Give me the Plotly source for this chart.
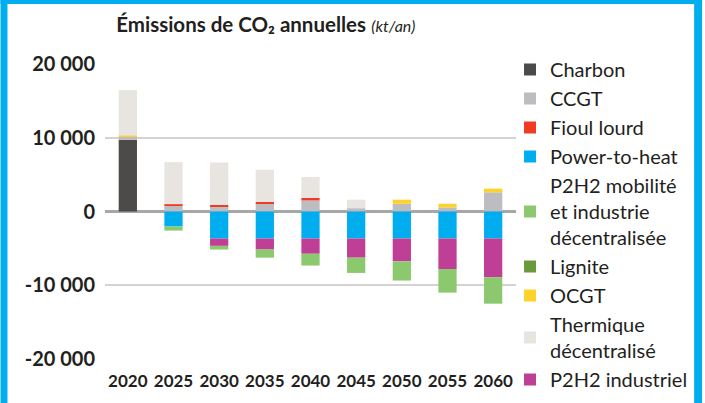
import plotly.graph_objects as go

# data (kt/an)
years = ["2020", "2025", "2030", "2035", "2040", "2045", "2050", "2055", "2060"]

charbon = [9730, 0, 0, 0, 0, 0, 0, 0, 0]
lignite = [0, 0, 0, 0, 0, 0, 0, 0, 0]
ccgt = [460, 760, 700, 1050, 1500, 450, 1050, 550, 2600]
fioul_lourd = [0, 230, 200, 250, 350, 0, 0, 0, 0]
ocgt = [100, 0, 0, 0, 0, 0, 550, 500, 500]
thermique_dec = [6170, 5700, 5750, 4360, 2820, 1150, 0, 0, 0]
power_to_heat = [0, -2040, -3660, -3660, -3660, -3660, -3660, -3660, -3660]
p2h2_industriel = [0, 0, -1000, -1500, -2070, -2600, -3100, -4140, -5240]
p2h2_mobilite = [0, -550, -500, -1100, -1600, -2070, -2600, -3200, -3600]

y_ticks = [-20000, -10000, 0, 10000, 20000]
y_tick_labels = ["-20 000", "-10 000", "0", "10 000", "20 000"]

# series in stacking order: (name, values, colour, legend rank)
series = [
    ("Charbon", charbon, "#4D4A4A", 1),
    ("Lignite", lignite, "#6A9A3C", 6),
    ("CCGT", ccgt, "#BDBCC0", 2),
    ("Fioul lourd", fioul_lourd, "#EF3B24", 3),
    ("OCGT", ocgt, "#FDD22B", 7),
    ("Thermique<br>décentralisé", thermique_dec, "#E8E5E0", 8),
    ("Power-to-heat", power_to_heat, "#00AEEF", 4),
    ("P2H2 industriel", p2h2_industriel, "#BE3F95", 9),
    ("P2H2 mobilité<br>et industrie<br>décentralisée", p2h2_mobilite, "#8CC96E", 5),
]

W, H = 705, 403
ML, MR, MT, MB = 105, 187, 64, 44
TXT = "#231F20"
FONT = "Lato"


def px2x(px):
    return (px - ML) / (W - ML - MR)


def py2y(py):
    return (H - MB - py) / (H - MT - MB)


fig = go.Figure()
for name, vals, color, rank in series:
    fig.add_trace(go.Bar(
        x=years, y=vals, name=name,
        marker=dict(color=color, line=dict(width=0)),
        legendgroup=name, legendrank=rank,
    ))

fig.update_layout(
    width=W, height=H,
    margin=dict(l=ML, r=MR, t=MT, b=MB),
    barmode="relative",
    bargap=0.6,
    plot_bgcolor="white",
    paper_bgcolor="white",
    font=dict(family=FONT, color=TXT),
    title=dict(
        text="<b>Émissions de CO₂ annuelles</b> <i><span style='font-size:16px'>(kt/an)</span></i>",
        font=dict(family=FONT, size=20.5, color=TXT),
        xref="container", x=0.377, xanchor="center",
        yref="container", y=1 - 25 / H, yanchor="middle",
    ),
    legend=dict(
        x=px2x(512), xanchor="left",
        y=py2y(50), yanchor="top",
        traceorder="grouped",
        tracegroupgap=0,
        maxheight=1,
        font=dict(family=FONT, size=20, color=TXT),
        bgcolor="rgba(0,0,0,0)",
    ),
    showlegend=True,
)

fig.update_yaxes(
    range=[-20000, 20000],
    tickvals=y_ticks, ticktext=y_tick_labels,
    tickfont=dict(family=FONT, size=20, color=TXT, weight="bold"),
    showgrid=True, gridcolor="#D3D3D3", gridwidth=1.5,
    zeroline=True, zerolinecolor="#A7A7A7", zerolinewidth=3,
    showline=False, ticks="", ticklabelstandoff=9,
)
fig.update_xaxes(
    tickfont=dict(family=FONT, size=17, color=TXT, weight="bold"),
    showgrid=False, showline=False, ticks="", ticklabelstandoff=10,
)

# cyan frame around the figure
cyan = "#00AEEF"
for x0, y0, x1, y1 in [(0, 0, W, 4), (0, 0, 7, H), (697, 0, W, H)]:
    fig.add_shape(type="rect", xref="paper", yref="paper",
                  x0=px2x(x0), x1=px2x(x1), y0=py2y(y1), y1=py2y(y0),
                  fillcolor=cyan, line=dict(width=0), layer="above")

fig.write_html(
    "out.html",
    config={"displayModeBar": False},
    post_script="document.body.style.margin='0';document.body.style.overflow='hidden';",
)
